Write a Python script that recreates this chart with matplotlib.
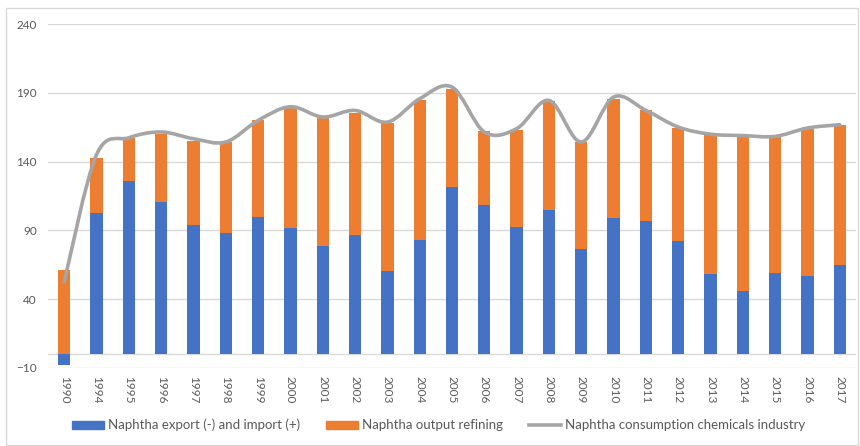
import numpy as np
import matplotlib.pyplot as plt
from matplotlib.path import Path
from matplotlib.patches import PathPatch, Rectangle
from matplotlib.lines import Line2D

plt.rcParams['font.family'] = ['Lato', 'DejaVu Sans']

years = ['1990'] + [str(y) for y in range(1994, 2018)]
export_import = [-8.2, 102.6, 125.9, 110.6, 94.1, 87.8, 99.5, 91.5, 78.6, 86.4,
                 60.6, 83.0, 121.5, 108.2, 92.2, 104.8, 76.4, 98.7, 96.8, 82.0,
                 58.0, 45.6, 59.0, 56.8, 64.8]
bar_tops = [60.9, 142.6, 157.2, 160.4, 155.0, 154.5, 170.5, 179.8, 171.8, 175.6,
            168.1, 184.9, 193.1, 162.3, 163.3, 184.4, 154.3, 185.6, 177.8, 164.7,
            159.1, 158.4, 157.9, 164.0, 166.4]
consumption = [52.4, 145.0, 157.4, 161.6, 156.7, 154.3, 170.0, 180.0, 172.5, 177.3,
               168.8, 185.8, 194.3, 161.6, 164.0, 184.6, 154.3, 187.0, 177.3, 165.2,
               160.0, 159.0, 158.4, 164.5, 166.9]

imp = np.array(export_import)
tops = np.array(bar_tops)
# refining output stacks on top of positive imports, starts from 0 otherwise
base = np.where(imp > 0, imp, 0)
refining = tops - base

blue = '#4472C4'
orange = '#ED7D31'
grey = '#A5A5A5'
txt = '#595959'

fig = plt.figure(figsize=(8.6, 4.46), dpi=100)
ax = fig.add_axes([48 / 860, 1 - 367.7 / 446, 808 / 860, 343.4 / 446])

x = np.arange(len(years))
ax.bar(x, imp, width=0.38, color=blue, zorder=2)
ax.bar(x, refining, bottom=base, width=0.38, color=orange, zorder=2)

# smoothed line (Catmull-Rom style bezier, like Excel's smoothed line)
pts = np.column_stack([x, consumption]).astype(float)
verts = [pts[0]]
codes = [Path.MOVETO]
n = len(pts)
for i in range(n - 1):
    p0 = pts[i - 1] if i > 0 else pts[i]
    p1 = pts[i]
    p2 = pts[i + 1]
    p3 = pts[i + 2] if i + 2 < n else pts[i + 1]
    c1 = p1 + (p2 - p0) / 6
    c2 = p2 - (p3 - p1) / 6
    verts += [c1, c2, p2]
    codes += [Path.CURVE4] * 3
ax.add_patch(PathPatch(Path(verts, codes), fill=False, edgecolor=grey,
                       lw=2.6, capstyle='round', joinstyle='round', zorder=3))

ax.set_xlim(-0.5, len(years) - 0.5)
ax.set_ylim(-10, 240)
ax.set_yticks([-10, 40, 90, 140, 190, 240])
ax.set_xticks(x)
ax.set_xticklabels(years, rotation=270)
ax.tick_params(axis='both', length=0, colors=txt, labelsize=8.5)
ax.tick_params(axis='x', pad=6)
ax.tick_params(axis='y', pad=8)
ax.yaxis.grid(True, color='#D9D9D9', lw=1, zorder=0)
ax.axhline(0, color='#D9D9D9', lw=1, zorder=1)
for s in ax.spines.values():
    s.set_visible(False)

handles = [Rectangle((0, 0), 1, 1, color=blue),
           Rectangle((0, 0), 1, 1, color=orange),
           Line2D([], [], color=grey, lw=2.6)]
labels = ['Naphtha export (-) and import (+)', 'Naphtha output refining',
          'Naphtha consumption chemicals industry']
leg = fig.legend(handles, labels, loc='center', bbox_to_anchor=(0.51, 1 - 425 / 446),
                 ncol=3, frameon=False, fontsize=9.5, handlelength=2.4,
                 handleheight=0.55, handletextpad=0.3, columnspacing=2.0)
for t in leg.get_texts():
    t.set_color(txt)

fig.patches.append(Rectangle((6 / 860, 1 / 446), 852 / 860, 437 / 446, fill=False,
                             edgecolor='#D9D9D9', lw=1, transform=fig.transFigure))

fig.savefig('out.png', dpi=100)
